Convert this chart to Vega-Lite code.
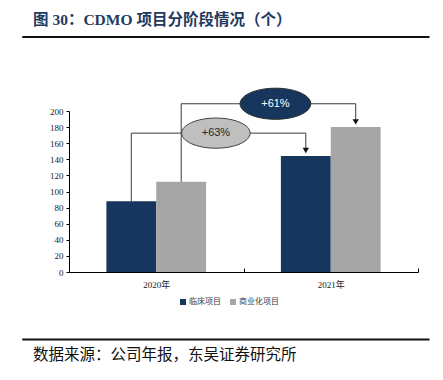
{
  "$schema": "https://vega.github.io/schema/vega-lite/v6.json",
  "width": 349,
  "height": 161,
  "autosize": {"type": "none"},
  "padding": {"left": 69, "top": 111, "right": 25, "bottom": 108},
  "background": "white",
  "config": {"view": {"stroke": null}},
  "datasets": {
    "bars": [
      {"year": "2020年", "type": "临床项目", "value": 88},
      {"year": "2020年", "type": "商业化项目", "value": 112},
      {"year": "2021年", "type": "临床项目", "value": 144},
      {"year": "2021年", "type": "商业化项目", "value": 180}
    ],
    "connectors": [
      {"conn": "A", "step": 1, "px": 0.357, "py": 88},
      {"conn": "A", "step": 2, "px": 0.357, "py": 172.5},
      {"conn": "A", "step": 3, "px": 1.357, "py": 172.5},
      {"conn": "A", "step": 4, "px": 1.357, "py": 151},
      {"conn": "B", "step": 1, "px": 0.643, "py": 112},
      {"conn": "B", "step": 2, "px": 0.643, "py": 209},
      {"conn": "B", "step": 3, "px": 1.643, "py": 209},
      {"conn": "B", "step": 4, "px": 1.643, "py": 186.5}
    ],
    "arrows": [
      {"ax": 1.357, "ay": 151},
      {"ax": 1.643, "ay": 186.5}
    ],
    "bubbles": [
      {"label": "+63%", "kind": "light", "bx": 0.842, "by": 172.5},
      {"label": "+61%", "kind": "dark", "bx": 1.183, "by": 209}
    ],
    "frame": [
      {"x1": -0.268, "x2": 2.066, "y": 292},
      {"x1": -0.268, "x2": 2.066, "y": -84}
    ],
    "heading": [{"tx": -0.206, "ty": 313, "label": "图 30：CDMO 项目分阶段情况（个）"}],
    "source": [{"tx": -0.206, "ty": -103, "label": "数据来源：公司年报，东吴证券研究所"}]
  },
  "layer": [
    {
      "data": {"name": "bars"},
      "mark": {"type": "bar"},
      "encoding": {
        "x": {
          "field": "year", "type": "nominal",
          "scale": {"paddingInner": 0, "paddingOuter": 0},
          "axis": {
            "title": null, "labelAngle": 0,
            "labelFont": "Liberation Serif, Noto Sans CJK SC", "labelFontSize": 9, "labelColor": "#222222",
            "domainColor": "#000000", "tickColor": "#000000", "tickBand": "extent", "tickSize": -4,
            "labelPadding": 12
          }
        },
        "xOffset": {
          "field": "type", "type": "nominal", "sort": ["临床项目", "商业化项目"],
          "scale": {"paddingInner": 0, "paddingOuter": 0.75}
        },
        "y": {
          "field": "value", "type": "quantitative",
          "scale": {"domain": [0, 200], "nice": false},
          "axis": {
            "title": null, "values": [0, 20, 40, 60, 80, 100, 120, 140, 160, 180, 200],
            "labelFont": "Liberation Serif", "labelFontSize": 9, "labelColor": "#222222",
            "domainColor": "#000000", "tickColor": "#000000", "tickSize": 3, "labelPadding": 3, "grid": false
          }
        },
        "color": {
          "field": "type", "type": "nominal", "sort": ["临床项目", "商业化项目"],
          "scale": {"domain": ["临床项目", "商业化项目"], "range": ["#17365d", "#a6a6a6"]},
          "legend": {
            "orient": "none", "legendX": 110, "legendY": 187, "direction": "horizontal", "title": null,
            "symbolType": "square", "symbolSize": 36, "symbolStrokeWidth": 0,
            "labelFont": "Noto Sans CJK SC", "labelFontSize": 8, "labelColor": "#404040",
            "labelOffset": 2, "columnPadding": 8, "padding": 0
          }
        }
      }
    },
    {
      "layer": [
        {
          "data": {"name": "frame"},
          "mark": {"type": "rule", "color": "#111111", "strokeWidth": 2},
          "encoding": {
            "x": {"field": "x1", "type": "quantitative", "scale": {"domain": [0, 2], "nice": false, "zero": false}, "axis": null},
            "x2": {"field": "x2"},
            "y": {"field": "y", "type": "quantitative", "scale": {"domain": [0, 200], "nice": false}, "axis": null}
          }
        },
        {
          "data": {"name": "connectors"},
          "mark": {"type": "line", "color": "#3a3a3a", "strokeWidth": 1},
          "encoding": {
            "x": {"field": "px", "type": "quantitative", "scale": {"domain": [0, 2], "nice": false, "zero": false}, "axis": null},
            "y": {"field": "py", "type": "quantitative", "scale": {"domain": [0, 200], "nice": false}, "axis": null},
            "detail": {"field": "conn"},
            "order": {"field": "step"}
          }
        },
        {
          "data": {"name": "arrows"},
          "mark": {"type": "point", "shape": "triangle-down", "filled": true, "color": "#111111", "opacity": 1, "size": 40},
          "encoding": {
            "x": {"field": "ax", "type": "quantitative", "scale": {"domain": [0, 2], "nice": false, "zero": false}, "axis": null},
            "y": {"field": "ay", "type": "quantitative", "scale": {"domain": [0, 200], "nice": false}, "axis": null}
          }
        },
        {
          "data": {"name": "bubbles"},
          "transform": [{"filter": "datum.kind === 'light'"}],
          "mark": {
            "type": "point",
            "shape": "M -1 0 C -1 -0.243 -0.5523 -0.44 0 -0.44 C 0.5523 -0.44 1 -0.243 1 0 C 1 0.243 0.5523 0.44 0 0.44 C -0.5523 0.44 -1 0.243 -1 0 Z",
            "filled": true, "fill": "#bfbfbf", "stroke": "#404040", "strokeWidth": 1, "opacity": 1, "fillOpacity": 1, "size": 4700
          },
          "encoding": {
            "x": {"field": "bx", "type": "quantitative", "scale": {"domain": [0, 2], "nice": false, "zero": false}, "axis": null},
            "y": {"field": "by", "type": "quantitative", "scale": {"domain": [0, 200], "nice": false}, "axis": null}
          }
        },
        {
          "data": {"name": "bubbles"},
          "transform": [{"filter": "datum.kind === 'dark'"}],
          "mark": {
            "type": "point",
            "shape": "M -1 0 C -1 -0.243 -0.5523 -0.44 0 -0.44 C 0.5523 -0.44 1 -0.243 1 0 C 1 0.243 0.5523 0.44 0 0.44 C -0.5523 0.44 -1 0.243 -1 0 Z",
            "filled": true, "fill": "#17365d", "stroke": "#2a2a2a", "strokeWidth": 1, "opacity": 1, "fillOpacity": 1, "size": 5000
          },
          "encoding": {
            "x": {"field": "bx", "type": "quantitative", "scale": {"domain": [0, 2], "nice": false, "zero": false}, "axis": null},
            "y": {"field": "by", "type": "quantitative", "scale": {"domain": [0, 200], "nice": false}, "axis": null}
          }
        },
        {
          "data": {"name": "bubbles"},
          "mark": {"type": "text", "font": "Liberation Sans", "fontSize": 11, "align": "center", "baseline": "middle"},
          "encoding": {
            "x": {"field": "bx", "type": "quantitative", "scale": {"domain": [0, 2], "nice": false, "zero": false}, "axis": null},
            "y": {"field": "by", "type": "quantitative", "scale": {"domain": [0, 200], "nice": false}, "axis": null},
            "text": {"field": "label"},
            "color": {"condition": {"test": "datum.kind === 'dark'", "value": "#ffffff"}, "value": "#262626"}
          }
        },
        {
          "data": {"name": "heading"},
          "mark": {"type": "text", "font": "Liberation Serif, Noto Sans CJK SC", "fontSize": 15.5, "fontWeight": "bold", "color": "#1f3a60", "align": "left", "baseline": "middle"},
          "encoding": {
            "x": {"field": "tx", "type": "quantitative", "scale": {"domain": [0, 2], "nice": false, "zero": false}, "axis": null},
            "y": {"field": "ty", "type": "quantitative", "scale": {"domain": [0, 200], "nice": false}, "axis": null},
            "text": {"field": "label"}
          }
        },
        {
          "data": {"name": "source"},
          "mark": {"type": "text", "font": "Noto Sans CJK SC", "fontSize": 15.5, "color": "#111111", "align": "left", "baseline": "middle"},
          "encoding": {
            "x": {"field": "tx", "type": "quantitative", "scale": {"domain": [0, 2], "nice": false, "zero": false}, "axis": null},
            "y": {"field": "ty", "type": "quantitative", "scale": {"domain": [0, 200], "nice": false}, "axis": null},
            "text": {"field": "label"}
          }
        }
      ]
    }
  ],
  "resolve": {"scale": {"x": "independent"}, "axis": {"y": "independent"}}
}
